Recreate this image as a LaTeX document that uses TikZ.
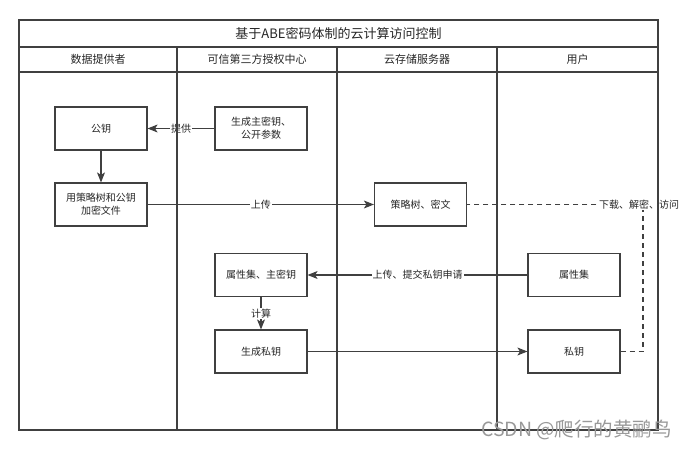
\documentclass[tikz,border=0pt]{standalone}
\usepackage{fontspec}
\setmainfont{Noto Sans CJK SC}
\usetikzlibrary{arrows.meta, positioning}
\tikzset{
    >={Stealth[length=10pt, width=8pt, inset=2.5pt]},
    % Pool and lanes
    lane/.style={draw=black!75, line width=1.2pt},
    title/.style={font=\fontsize{13}{15}\selectfont, text=black!85},
    head/.style={font=\fontsize{11}{13}\selectfont, text=black!85},
    % Boxes
    box/.style={rectangle, draw=black!75, line width=1.2pt, fill=white,
                minimum width=92pt, minimum height=43pt, align=center,
                font=\fontsize{10}{13}\selectfont, text=black!85},
    % Flow & Labels
    flow/.style={->, line width=1.1pt, black!75},
    fetch/.style={line width=1.1pt, black!75, dash pattern=on 5pt off 4pt},
    lbl/.style={fill=white, inner sep=1pt, font=\fontsize{10}{12}\selectfont, text=black!85},
    wmark/.style={font=\fontsize{19.5}{22}\selectfont, text=black!40}
}

\begin{document}
\begin{tikzpicture}[x=1pt, y=-1pt]
\useasboundingbox (0,0) rectangle (689,450);

\node[title] (pool) at (338.5,33.5) {基于ABE密码体制的云计算访问控制};
\node[head] (hOwner) at (98,59.5) {数据提供者};
\node[head] (hAuth) at (257,59.5) {可信第三方授权中心};
\node[head] (hCloud) at (417,59.5) {云存储服务器};
\node[head] (hUser) at (577.5,59.5) {用户};

\node[box] (pk) at (101,128.5) {公钥};
\node[box] (setup) at (261,128.5) {生成主密钥、\\公开参数};
\node[box] (enc) at (101,204.5) {用策略树和公钥\\加密文件};
\node[box] (ct) at (420.5,204.5) {策略树、密文};
\node[box] (attr) at (261,275) {属性集、主密钥};
\node[box] (uattr) at (574,275) {属性集};
\node[box] (keygen) at (261,351.5) {生成私钥};
\node[box] (usk) at (574,351.5) {私钥};

\coordinate (turn) at (643,204.5);

\draw[flow] (setup) -- node[lbl] {提供} (pk);
\draw[flow] (pk) -- (enc);
\draw[flow] (enc) -- node[lbl] {上传} (ct);
\draw[flow] (uattr) -- node[lbl] {上传、提交私钥申请} (attr);
\draw[flow] (attr) -- node[lbl] {计算} (keygen);
\draw[flow] (keygen) -- (usk);
\draw[fetch] (usk) -| (turn) -- (ct);
\node[lbl] (dl) at (639,204.5) {下载、解密、访问};

% pool and lanes on top
\draw[lane] (19,20) rectangle (658,430);
\draw[lane] (19,47) -- (658,47);
\draw[lane] (19,72) -- (658,72);
\foreach \x in {177,337,497}
    \draw[lane] (\x,47) -- (\x,430);

\node[wmark] (csdn) at (576.5,430) {CSDN @爬行的黄鹂鸟};
\end{tikzpicture}
\end{document}
